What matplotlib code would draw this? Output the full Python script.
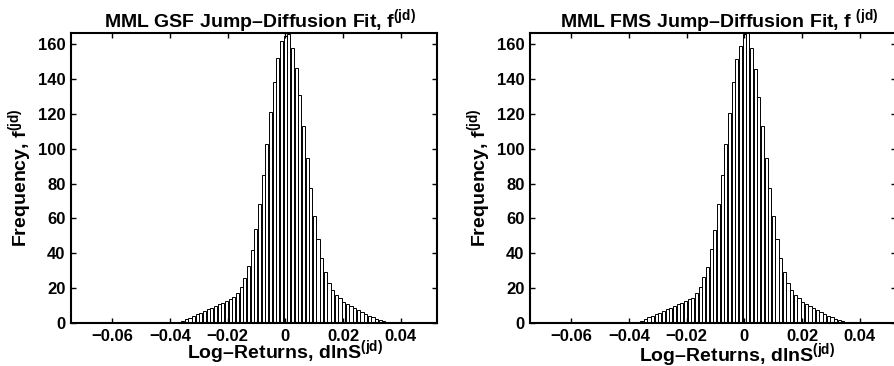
import numpy as np
import matplotlib
matplotlib.use('Agg')
import matplotlib.pyplot as plt

plt.rcParams['font.family'] = ['Liberation Sans', 'DejaVu Sans']
plt.rcParams['font.weight'] = 'bold'
plt.rcParams['mathtext.fontset'] = 'custom'
plt.rcParams['mathtext.rm'] = 'Liberation Sans:bold'
plt.rcParams['mathtext.bf'] = 'Liberation Sans:bold'
plt.rcParams['mathtext.it'] = 'Liberation Sans:bold'
plt.rcParams['mathtext.default'] = 'bf'

# histogram bins (100 bins between data min and max)
bin_lo = -0.0742
bin_hi = 0.0525
n_bins = 100

# bar heights
gsf_counts = [0] * 27 + [
    0.1, 0.2, 0.7, 1.3, 2.1, 3.1, 4.0, 5.0, 5.9, 6.9,
    7.9, 8.8, 9.8, 10.8, 11.7, 12.8, 13.6, 15.1, 17.0, 20.9,
    25.7, 32.8, 42.0, 53.9, 68.5, 84.8, 102.8, 121.0, 138.3, 152.0,
    162.0, 165.0, 166.0, 158.0, 146.6, 131.0, 113.0, 95.0, 77.5, 61.6,
    48.3, 37.6, 29.4, 23.2, 19.0, 16.1, 14.2, 12.3, 11.0, 9.8,
    8.8, 7.5, 6.1, 5.2, 4.0, 3.3, 2.5, 1.7, 1.2, 0.6,
    0.3, 0.1] + [0] * 11

fms_counts = [0] * 27 + [
    0.1, 0.2, 0.7, 1.3, 2.1, 3.2, 4.0, 5.0, 6.0, 6.9,
    7.9, 8.8, 9.8, 10.8, 11.7, 12.7, 14.0, 14.6, 17.3, 20.9,
    26.5, 32.4, 42.5, 53.5, 68.5, 85.0, 103.0, 120.8, 138.3, 151.7,
    159.0, 165.8, 166.7, 158.0, 145.6, 130.0, 113.0, 95.0, 77.5, 61.6,
    48.3, 37.6, 29.4, 23.2, 19.0, 16.1, 14.2, 12.3, 11.0, 9.8,
    8.8, 7.5, 6.1, 5.2, 4.0, 3.3, 2.5, 1.7, 1.2, 0.6,
    0.3, 0.1] + [0] * 11

xticks = [-0.06, -0.04, -0.02, 0, 0.02, 0.04]
xticklabels = ['\u22120.06', '\u22120.04', '\u22120.02', '0', '0.02', '0.04']
yticks = [0, 20, 40, 60, 80, 100, 120, 140, 160]

titles = ['MML GSF Jump\u2013Diffusion Fit, f$^{(jd)}$',
          'MML FMS Jump\u2013Diffusion Fit, f $^{(jd)}$']
xlabel = 'Log\u2013Returns, dlnS$^{(jd)}$'
ylabel = 'Frequency, f$^{(jd)}$'

edges = np.linspace(bin_lo, bin_hi, n_bins + 1)
centers = (edges[:-1] + edges[1:]) / 2
bw = edges[1] - edges[0]

fig = plt.figure(figsize=(8.94, 3.66), dpi=100)
ax1 = fig.add_axes([71 / 894, 43 / 366, 366 / 894, 290 / 366])
ax2 = fig.add_axes([530 / 894, 43 / 366, 366 / 894, 290 / 366])

panels = [(ax1, gsf_counts, titles[0], (0.585, -0.1207)),
          (ax2, fms_counts, titles[1], (0.566, -0.131))]
for ax, counts, title, xl_pos in panels:
    ax.bar(centers, counts, width=bw * 0.85, color='white',
           edgecolor='black', linewidth=0.7)
    ax.set_xlim(bin_lo, bin_hi)
    ax.set_ylim(0, 166.5)
    ax.set_xticks(xticks)
    ax.set_xticklabels(xticklabels)
    ax.set_yticks(yticks)
    ax.tick_params(direction='in', length=3.5, width=1, labelsize=12,
                   top=True, right=True, pad=4)
    for s in ax.spines.values():
        s.set_linewidth(1.5)
    ax.set_title(title, fontsize=14, fontweight='bold', pad=4, x=0.517)
    ax.set_xlabel(xlabel, fontsize=14, fontweight='bold')
    ax.xaxis.label.set_va('baseline')
    ax.xaxis.set_label_coords(*xl_pos)
    ax.set_ylabel(ylabel, fontsize=14, fontweight='bold')
    ax.yaxis.set_label_coords(-0.1, 0.5)

fig.savefig('out.png', dpi=100)
